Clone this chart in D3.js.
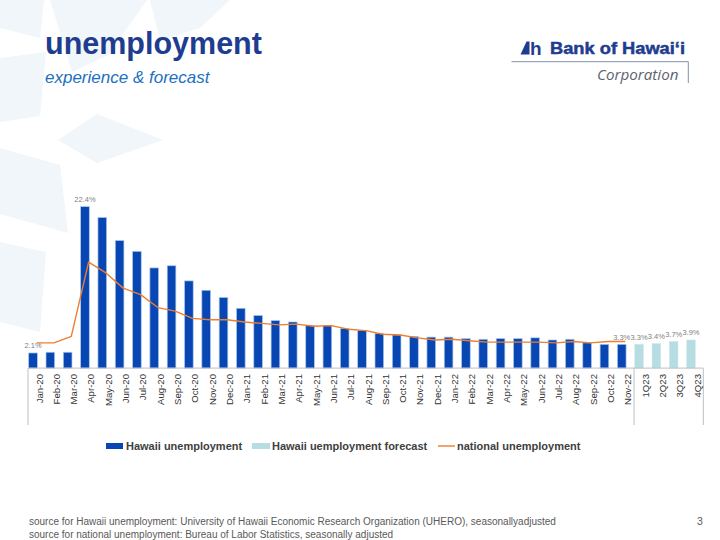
<!DOCTYPE html>
<html><head><meta charset="utf-8">
<script src="https://cdn.jsdelivr.net/npm/d3@7/dist/d3.min.js"></script>
<style>
html,body{margin:0;padding:0;background:#fff;}
svg{display:block;font-family:"Liberation Sans",Arial,sans-serif;}
</style></head>
<body>
<svg id="chart" width="720" height="540"></svg>
<script>
const months = ["Jan-20","Feb-20","Mar-20","Apr-20","May-20","Jun-20","Jul-20","Aug-20","Sep-20","Oct-20","Nov-20","Dec-20",
"Jan-21","Feb-21","Mar-21","Apr-21","May-21","Jun-21","Jul-21","Aug-21","Sep-21","Oct-21","Nov-21","Dec-21",
"Jan-22","Feb-22","Mar-22","Apr-22","May-22","Jun-22","Jul-22","Aug-22","Sep-22","Oct-22","Nov-22"];
const quarters = ["1Q23","2Q23","3Q23","4Q23"];
const hawaii = [2.1,2.2,2.2,22.4,20.9,17.7,16.2,13.9,14.2,12.1,10.8,9.8,
8.3,7.3,6.6,6.4,5.9,5.9,5.5,5.2,4.8,4.6,4.4,4.3,
4.3,4.1,4.0,4.1,4.1,4.2,3.9,4.0,3.5,3.3,3.3];
const forecast = [3.3,3.4,3.7,3.9];
const national = [3.5,3.5,4.4,14.7,13.2,11.1,10.2,8.4,7.9,6.9,6.7,6.7,
6.4,6.2,6.0,6.1,5.8,5.9,5.4,5.2,4.7,4.6,4.2,3.9,
4.0,3.8,3.6,3.6,3.6,3.6,3.5,3.7,3.5,3.7,3.7];
const labeledHawaii = {"Jan-20":"2.1%","Apr-20":"22.4%","Nov-22":"3.3%"};
const forecastLabels = ["3.3%","3.4%","3.7%","3.9%"];
const legendItems = ["Hawaii unemployment","Hawaii uemployment forecast","national unemployment"];
const footnotes = ["source for Hawaii unemployment: University of Hawaii Economic Research Organization (UHERO), seasonallyadjusted",
"source for national unemployment: Bureau of Labor Statistics, seasonally adjusted"];

const svg = d3.select("#chart");
const cats = months.concat(quarters);

// background pale star shapes
const pale = "#f0f6f9";
const kites = [
 [[50,0],[147,0],[108,55],[72,72]],
 [[0,0],[44,0],[40,38],[0,28]],
 [[97,114],[163,140],[97,163],[58,140]],
 [[0,58],[46,52],[40,116],[0,122]],
 [[0,148],[60,165],[68,233],[0,214]],
 [[0,242],[46,252],[40,332],[0,322]],
 [[150,0],[230,0],[200,28],[160,40]]
];
svg.append("g").selectAll("path").data(kites).join("path")
  .attr("d", d => d3.line()(d) + "Z").attr("fill", pale);

// title
svg.append("text").attr("x",45).attr("y",54).attr("font-size",30.5).attr("font-weight","bold")
  .attr("fill","#1f3d8f").text("unemployment");
svg.append("text").attr("x",45).attr("y",83).attr("font-size",17).attr("font-style","italic")
  .attr("fill","#2170c0").text("experience & forecast");

// logo
const logo = svg.append("g");
logo.append("path").attr("d","M520.5,54.5 L526.5,41.5 L529.5,41.5 L529.5,54.5 Z").attr("fill","#1f3d8f");
logo.append("text").attr("x",530).attr("y",54.5).attr("font-size",19).attr("font-weight","bold")
  .attr("fill","#1f3d8f").text("h");
logo.append("text").attr("x",550).attr("y",54.3).attr("font-size",17).attr("font-weight","bold")
  .attr("fill","#1f3d8f").attr("stroke","#1f3d8f").attr("stroke-width",0.5)
  .attr("textLength",135).attr("lengthAdjust","spacingAndGlyphs").text("Bank of Hawai\u2018i");
logo.append("path").attr("d","M511.5,61.7 H688.3 V83").attr("fill","none").attr("stroke","#8090aa").attr("stroke-width",1);
logo.append("text").attr("x",597).attr("y",79.5).attr("font-size",15).attr("font-style","italic")
  .attr("font-family","'Open Sans','Noto Sans',sans-serif")
  .attr("fill","#5c6470").attr("textLength",81.5).attr("lengthAdjust","spacingAndGlyphs").text("Corporation");

// scales
const x = d3.scaleBand().domain(cats).range([28, 703.3]).padding(0);
const bw = x.bandwidth();
const y = d3.scaleLinear().domain([0, 25]).range([368.1, 368.1 - 25*7.207]);

const barX = c => x(c) + bw*0.04;
const barW = bw*0.5;

// Hawaii bars
const hData = months.map((m,i)=>({c:m,v:hawaii[i]}));
const fData = quarters.map((q,i)=>({c:q,v:forecast[i],l:forecastLabels[i]}));
svg.append("g").selectAll("rect").data(hData).join("rect")
  .attr("x", d=>barX(d.c)).attr("width", barW)
  .attr("y", d=>y(d.v)).attr("height", d=>y(0)-y(d.v))
  .attr("fill","#0846b4").attr("stroke","#a9c8ee").attr("stroke-width",0.7);
svg.append("g").selectAll("rect").data(fData).join("rect")
  .attr("x", d=>barX(d.c)).attr("width", barW)
  .attr("y", d=>y(d.v)).attr("height", d=>y(0)-y(d.v))
  .attr("fill","#b6dde2").attr("stroke","#cfe8ec").attr("stroke-width",0.5);

// national line
const nData = months.map((m,i)=>({c:m,v:national[i]}));
svg.append("path").datum(nData)
  .attr("d", d3.line().x(d=>x(d.c)+bw/2).y(d=>y(d.v)))
  .attr("fill","none").attr("stroke","#ed7d31").attr("stroke-width",1.4).attr("stroke-linejoin","round");

// data labels
const lbl = svg.append("g").attr("font-size",7.5).attr("fill","#7f7f7f").attr("text-anchor","middle");
hData.filter(d=>labeledHawaii[d.c]).forEach(d=>{
  lbl.append("text").attr("x", barX(d.c)+barW/2).attr("y", y(d.v)-4.5).text(labeledHawaii[d.c]);
});
fData.forEach(d=>{
  lbl.append("text").attr("x", barX(d.c)+barW/2).attr("y", y(d.v)-4.5).text(d.l);
});

// axis
const ax = svg.append("g");
ax.append("line").attr("x1",28).attr("x2",703.3).attr("y1",368.1).attr("y2",368.1).attr("stroke","#bfbfbf").attr("stroke-width",1);
[x(cats[0]), x(quarters[0]), x(cats[cats.length-1])+bw].forEach(px=>{
  ax.append("line").attr("x1",px).attr("x2",px).attr("y1",368.1).attr("y2",425).attr("stroke","#bfbfbf").attr("stroke-width",1);
});
ax.selectAll("text.cat").data(cats).join("text").attr("class","cat")
  .attr("transform", c=>`translate(${x(c)+bw/2+2.5},374) rotate(-90)`)
  .attr("text-anchor","end").attr("dy","0.35em")
  .attr("font-size",9.6).attr("fill","#333333").text(c=>c);

// legend
const lg = svg.append("g").attr("font-size",11).attr("font-weight","bold").attr("fill","#404040");
lg.append("rect").attr("x",106).attr("y",443).attr("width",17).attr("height",6).attr("fill","#0846b4");
lg.append("text").attr("x",126).attr("y",450).text(legendItems[0]);
lg.append("rect").attr("x",252).attr("y",443).attr("width",18).attr("height",6).attr("fill","#b6dde2");
lg.append("text").attr("x",272).attr("y",450).text(legendItems[1]);
lg.append("line").attr("x1",438).attr("x2",455).attr("y1",446).attr("y2",446).attr("stroke","#ed7d31").attr("stroke-width",1.4);
lg.append("text").attr("x",457).attr("y",450).text(legendItems[2]);

// footer
const ft = svg.append("g").attr("font-size",10).attr("fill","#595959");
ft.append("text").attr("x",29).attr("y",524.5).text(footnotes[0]);
ft.append("text").attr("x",29).attr("y",537.5).text(footnotes[1]);
ft.append("text").attr("x",697).attr("y",524.5).attr("font-size",10.5).text("3");
</script>
</body></html>
